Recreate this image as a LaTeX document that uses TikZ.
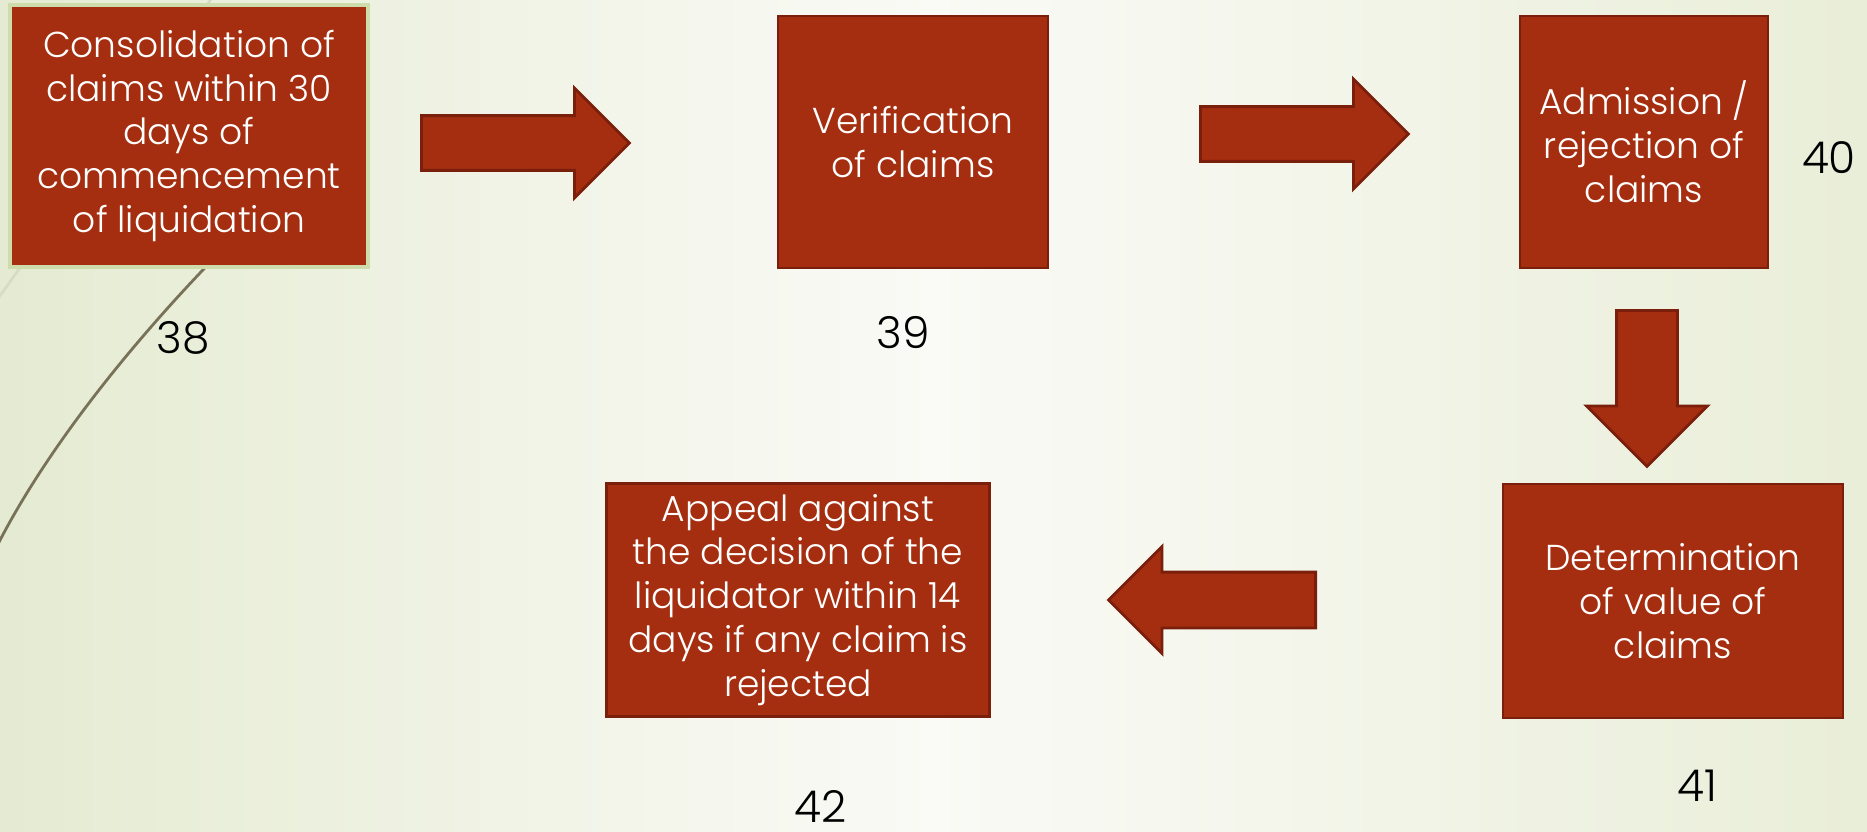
\documentclass[tikz,border=0pt]{standalone}
\usepackage{fontspec}
\setmainfont{Poppins}[UprightFont={* Light}]
\usetikzlibrary{shapes.arrows}

\definecolor{claimred}{RGB}{165,46,16}
\definecolor{claimedge}{RGB}{122,31,11}
\definecolor{paleedge}{RGB}{206,219,170}
\definecolor{bgleft}{RGB}{229,235,210}
\definecolor{bgmid}{RGB}{250,250,246}
\definecolor{bgright}{RGB}{233,238,216}
\definecolor{wispdark}{RGB}{120,114,88}
\definecolor{wisplight}{RGB}{212,220,194}

\begin{document}
\begin{tikzpicture}[
    x=0.02cm, y=-0.02cm,
    claimbox/.style={rectangle, fill=claimred, draw=claimedge, line width=1.2pt, text=white, align=center, inner sep=0pt, font=\fontsize{20.5}{25}\selectfont},
    firstbox/.style={claimbox, draw=paleedge, line width=2pt},
    blockarrow/.style={single arrow, fill=claimred, draw=claimedge, line width=1.6pt, inner xsep=0pt, inner ysep=0.52cm, minimum height=4.16cm, single arrow head extend=0.55cm},
    pagenum/.style={font=\fontsize{25}{30}\selectfont, text=black}
]
    % --- BACKGROUND ---
    \useasboundingbox (0,0) rectangle (1867,832);
    \shade[left color=bgleft, right color=bgright, middle color=bgmid] (0,0) rectangle (1867,832);
    \draw[wisplight, line width=1.5pt] (214,-5) -- (-3,300);
    \draw[wispdark, line width=1.6pt] (250,222) .. controls (125,345) and (40,460) .. (-5,550);

    % --- TOP ROW ---
    \node[firstbox, minimum width=7.16cm, minimum height=5.24cm] (consol) at (189,136) {Consolidation of\\claims within 30\\days of\\commencement\\of liquidation};
    \node[claimbox, minimum width=5.4cm, minimum height=5.04cm] (verify) at (913,142) {Verification\\of claims};
    \node[claimbox, minimum width=4.96cm, minimum height=5.04cm] (admit) at (1644,142) {Admission /\\rejection of\\claims};

    % --- BOTTOM ROW ---
    \node[claimbox, minimum width=6.8cm, minimum height=4.68cm] (determ) at (1673,601) {Determination\\of value of\\claims};
    \node[claimbox, minimum width=7.66cm, minimum height=4.66cm] (appeal) at (798,600) {Appeal against\\the decision of the\\liquidator within 14\\days if any claim is\\rejected};

    % --- BLOCK ARROWS ---
    \node[blockarrow, anchor=tail] (ar1) at (420,143) {};
    \node[blockarrow, anchor=tail] (ar2) at (1199,134) {};
    \node[blockarrow, rotate=-90, anchor=tail, minimum height=3.12cm, inner ysep=0.58cm, single arrow head extend=0.6cm] (ar3) at (1647,309) {};
    \node[blockarrow, rotate=180, anchor=tail, minimum height=4.14cm, inner ysep=0.53cm, single arrow head extend=0.51cm] (ar4) at (1317,600) {};

    % --- SLIDE NUMBERS ---
    \node[pagenum] (n38) at (183,338) {38};
    \node[pagenum] (n39) at (903,333) {39};
    \node[pagenum] (n40) at (1829,158) {40};
    \node[pagenum] (n41) at (1697,786) {41};
    \node[pagenum] (n42) at (821,806) {42};
\end{tikzpicture}
\end{document}
